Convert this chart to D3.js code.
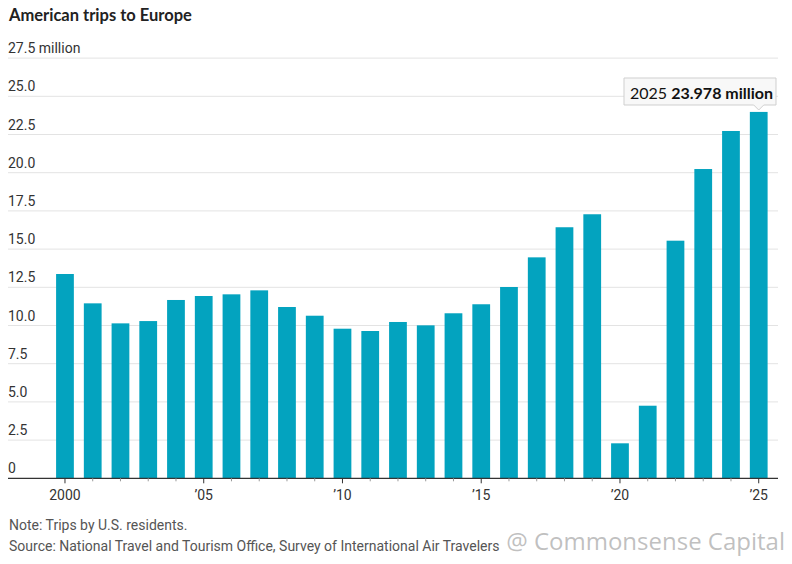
<!DOCTYPE html>
<html>
<head>
<meta charset="utf-8">
<script src="https://cdn.jsdelivr.net/npm/d3@7"></script>
<style>
  body { margin: 0; background: #fff; }
  svg { display: block; }
  .narrow { font-family: "Liberation Sans Narrow", "Roboto", sans-serif; }
</style>
</head>
<body>
<svg id="chart" width="792" height="564"></svg>
<script>
// ---- data ----
const years = [2000,2001,2002,2003,2004,2005,2006,2007,2008,2009,2010,2011,2012,
               2013,2014,2015,2016,2017,2018,2019,2020,2021,2022,2023,2024,2025];
const trips = [13.37,11.45,10.14,10.29,11.67,11.93,12.04,12.30,11.21,10.64,9.79,9.64,10.23,
               10.01,10.80,11.39,12.52,14.46,16.43,17.28,2.29,4.75,15.55,20.24,22.73,23.978];
const yTicks = [0,2.5,5,7.5,10,12.5,15,17.5,20,22.5,25,27.5];
const yTickLabels = ["0","2.5","5.0","7.5","10.0","12.5","15.0","17.5","20.0","22.5","25.0","27.5 million"];
const xLabelYears = [2000,2005,2010,2015,2020,2025];
const xLabels = ["2000","\u201905","\u201910","\u201915","\u201920","\u201925"];
const title = "American trips to Europe";
const noteText = "Note: Trips by U.S. residents.";
const sourceText = "Source: National Travel and Tourism Office, Survey of International Air Travelers";
const tipYear = "2025";
const tipValue = "23.978 million";
const watermark = "@ Commonsense Capital";

// ---- layout ----
const svg = d3.select("#chart");
const left = 8, right = 778;
const y = d3.scaleLinear().domain([0, 27.5]).range([478.3, 58.1]);
const x = d3.scaleBand().domain(years).range([51.1, 772.6]).paddingInner(0.36).paddingOuter(0.18);

// title
svg.append("text").attr("x", 9).attr("y", 21)
  .attr("font-family", "Lato, 'Open Sans', sans-serif").attr("font-weight", 700)
  .attr("font-size", 16.5).attr("fill", "#222").text(title);

// gridlines + y labels
const yAxis = svg.append("g").attr("class", "narrow");
yAxis.selectAll("line").data(yTicks.slice(1)).join("line")
  .attr("x1", left).attr("x2", right)
  .attr("y1", d => y(d)).attr("y2", d => y(d))
  .attr("stroke", "#e3e3e3").attr("stroke-width", 1);
yAxis.selectAll("text").data(yTicks).join("text")
  .attr("x", left).attr("y", d => y(d) - 5)
  .attr("font-size", 14).attr("fill", "#333")
  .text((d, i) => yTickLabels[i]);

// bars
svg.append("g").selectAll("rect").data(years).join("rect")
  .attr("x", d => x(d)).attr("width", x.bandwidth())
  .attr("y", (d, i) => y(trips[i]))
  .attr("height", (d, i) => y(0) - y(trips[i]))
  .attr("fill", "#03a3bf");

// x axis
const xa = svg.append("g").attr("transform", `translate(0,${y(0)})`);
xa.append("line").attr("x1", left).attr("x2", right).attr("y1", 0).attr("y2", 0)
  .attr("stroke", "#333").attr("stroke-width", 1.2);
xa.selectAll("line.tick").data(years).join("line").attr("class", "tick")
  .attr("x1", d => x(d) + x.bandwidth() / 2).attr("x2", d => x(d) + x.bandwidth() / 2)
  .attr("y1", 0).attr("y2", d => xLabelYears.includes(d) ? 5 : 3)
  .attr("stroke", d => xLabelYears.includes(d) ? "#333" : "#999").attr("stroke-width", 1);
xa.selectAll("text").data(xLabelYears).join("text")
  .attr("class", "narrow")
  .attr("x", d => x(d) + x.bandwidth() / 2).attr("y", 22)
  .attr("text-anchor", "middle").attr("font-size", 14).attr("fill", "#333")
  .text((d, i) => xLabels[i]);

// tooltip
const last = years[years.length - 1];
const tx = x(last) + x.bandwidth() / 2;
const tip = svg.append("g");
const bx0 = 624, bx1 = 776, by0 = 78, by1 = 105;
tip.append("path")
  .attr("d", `M${bx0},${by0}H${bx1}V${by1}H${tx + 5}L${tx},${by1 + 5}L${tx - 5},${by1}H${bx0}Z`)
  .attr("fill", "#f8f8f8").attr("stroke", "#cfcfcf").attr("stroke-width", 1);
const tt = tip.append("text").attr("x", 630).attr("y", 98.5)
  .attr("font-family", "Lato, 'Open Sans', sans-serif").attr("font-size", 16).attr("fill", "#111");
tt.append("tspan").text(tipYear + " ");
tt.append("tspan").attr("font-weight", 700).text(tipValue);

// footer
svg.append("text").attr("class", "narrow").attr("x", 9).attr("y", 530)
  .attr("font-size", 14).attr("fill", "#555").text(noteText);
svg.append("text").attr("class", "narrow").attr("x", 9).attr("y", 551)
  .attr("font-size", 14).attr("fill", "#555").text(sourceText);

// watermark
svg.append("text").attr("x", 785).attr("y", 550).attr("text-anchor", "end")
  .attr("font-family", "'Open Sans', sans-serif").attr("font-size", 24)
  .attr("fill", "#b5b5b5").attr("fill-opacity", 0.85).text(watermark);
</script>
</body>
</html>
